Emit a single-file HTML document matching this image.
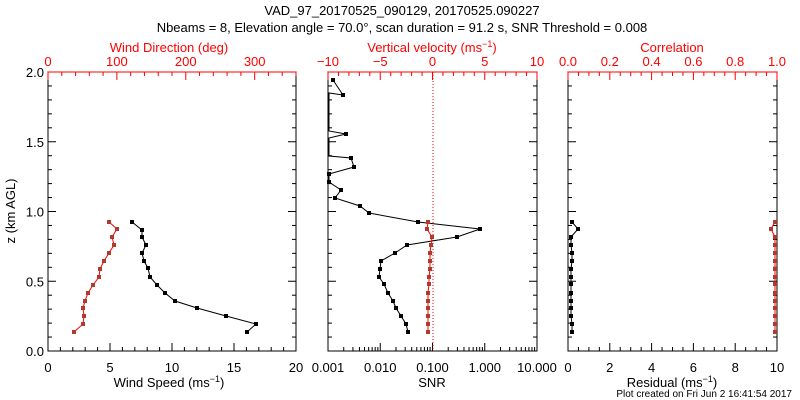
<!DOCTYPE html><html><head><meta charset="utf-8"><style>body{margin:0;background:#fff}svg{display:block}text{font-family:"Liberation Sans",sans-serif;font-size:13px}</style></head><body>
<svg id="s" width="800" height="400" xmlns="http://www.w3.org/2000/svg"></svg>
<script>
const s=document.getElementById('s');let h='';
const Y0=351,Y1=72;
function t(x,y,str,c,a,fs){h+=`<text x="${x}" y="${y}" fill="${c||'#000'}" text-anchor="${a||'middle'}" ${fs?`style="font-size:${fs}px"`:''}>${str}</text>`;}
function l(x1,y1,x2,y2,c,w,d){h+=`<line x1="${x1}" y1="${y1}" x2="${x2}" y2="${y2}" stroke="${c}" stroke-width="${w||1}" ${d?`stroke-dasharray="${d}"`:''}/>`;}
function panel(x0,x1){h+=`<rect x="${x0}" y="${Y1}" width="${x1-x0}" height="${Y0-Y1}" fill="none" stroke="#000"/>`;
 for(let z=0;z<=20;z++){const y=Y0-z*(Y0-Y1)/20;const L=z%5==0?8:4;l(x0,y,x0+L,y,'#000');l(x1,y,x1-L,y,'#000');}}
function xt(x0,x1,lo,hi,maj,min,top,col,labs){const f=v=>x0+(v-lo)/(hi-lo)*(x1-x0);
 for(let v=lo;v<=hi+1e-9;v+=min){const isM=Math.abs(Math.round((v-lo)/maj)*maj-(v-lo))<1e-6;const L=isM?8:4;const x=f(v);
  if(top)l(x,Y1,x,Y1+L,col);else l(x,Y0,x,Y0-L,col);}
 if(top)l(x0,Y1,x1,Y1,col);
 labs.forEach(([v,s])=>t(f(v),top?66:372,s,col));}
function line(pts,c,m){h+=`<polyline points="${pts.map(p=>p[0]+','+p[1]).join(' ')}" fill="none" stroke="${c}"/>`;
 if(m)pts.forEach(p=>{if(p[2]!==0)h+=`<rect x="${p[0]-2}" y="${p[1]-2}" width="4" height="4" fill="${m}"/>`;});}
t(402,15,'VAD_97_20170525_090129, 20170525.090227');
t(402,32,'Nbeams = 8, Elevation angle = 70.0°, scan duration = 91.2 s, SNR Threshold = 0.008');
panel(48,296);
xt(48,296,0,20,5,1,false,'#000',[[0,'0'],[5,'5'],[10,'10'],[15,'15'],[20,'20']]);
xt(48,296,0,360,100,20,true,'#f00',[[0,'0'],[100,'100'],[200,'200'],[300,'300']]);
for(const[z,s]of[[0,'0.0'],[.5,'0.5'],[1,'1.0'],[1.5,'1.5'],[2,'2.0']])t(44,Y0-z*139.5+5,s,'#000','end');
t(169,52,'Wind Direction (deg)','#f00');
h+=`<text x="169" y="387" text-anchor="middle">Wind Speed (ms<tspan dy="-5" style="font-size:9px">−1</tspan><tspan dy="5">)</tspan></text>`;
h+=`<text transform="translate(15,211) rotate(-90)" text-anchor="middle">z (km AGL)</text>`;
line([[132,222],[142,230],[142,237],[146,245],[142,253],[144,261],[148,268],[150,277],[157,285],[165,293],[175,301],[197,308],[226,316],[256,324],[247,332]],'#000','#000');
line([[109,222],[117,229],[112,237],[114,245],[109,253],[104,261],[100,269],[99,277],[93,285],[88,293],[85,301],[83,308],[84,316],[83,324],[74,332]],'#f00','#b03a2e');
panel(328,537);
xt(328,537,-10,10,5,1,true,'#f00',[[-10,'−10'],[-5,'−5'],[0,'0'],[5,'5'],[10,'10']]);
{const f=v=>328+(Math.log10(v)+3)/4*209;for(let d=-3;d<1;d++)for(let k=1;k<10;k++){const x=f(k*10**d);l(x,Y0,x,Y0-(k==1?8:4),'#000');}
[[0.001,'0.001'],[0.01,'0.010'],[0.1,'0.100'],[1,'1.000'],[10,'10.000']].forEach(([v,s])=>t(f(v),372,s));}
h+=`<text x="432" y="52" text-anchor="middle" fill="#f00">Vertical velocity (ms<tspan dy="-5" style="font-size:9px">−1</tspan><tspan dy="5">)</tspan></text>`;
t(432,387,'SNR');
l(433,Y1,433,Y0,'#f00',1,'1,2');
line([[333,80],[343,95],[329,93,0],[329,119,0],[329,131,0],[346,134],[329,138,0],[329,156,0],[351,158],[354,167],[329,174],[329,182],[341,190],[335,198],[360,206],[369,213],[418,222],[480,229],[457,237],[407,245],[395,253],[381,261],[380,269],[379,277],[384,284],[388,293],[393,301],[396,308],[401,316],[406,324],[408,332]],'#000','#000');
line([[428,222],[427,229],[432,237],[431,245],[430,253],[430,261],[430,269],[429,277],[429,284],[428,293],[428,301],[428,308],[428,316],[428,324],[428,332]],'#f00','#b03a2e');
panel(568,777);
xt(568,777,0,1,0.2,0.05,true,'#f00',[[0,'0.0'],[.2,'0.2'],[.4,'0.4'],[.6,'0.6'],[.8,'0.8'],[1,'1.0']]);
xt(568,777,0,10,2,0.5,false,'#000',[[0,'0'],[2,'2'],[4,'4'],[6,'6'],[8,'8'],[10,'10']]);
t(672,52,'Correlation','#f00');
h+=`<text x="672" y="387" text-anchor="middle">Residual (ms<tspan dy="-5" style="font-size:9px">−1</tspan><tspan dy="5">)</tspan></text>`;
t(792,397,'Plot created on Fri Jun  2 16:41:54 2017','#000','end',10);
line([[572,222],[578,229],[571,237],[571,245],[572,253],[572,261],[571,269],[571,277],[571,284],[571,293],[571,301],[571,308],[571,316],[572,324],[572,332]],'#000','#000');
line([[775,222],[771,229],[775,237],[775,245],[775,253],[775,261],[775,269],[775,277],[775,284],[775,293],[775,301],[775,308],[775,316],[775,324],[775,332]],'#f00','#b03a2e');
s.innerHTML=h;
</script></body></html>
